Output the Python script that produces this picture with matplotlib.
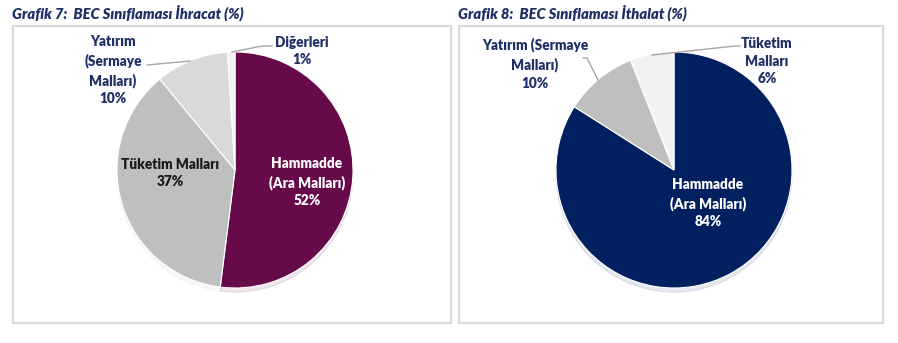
import matplotlib.pyplot as plt
from matplotlib.patches import Rectangle

# export shares by BEC classification (%)
ihr_labels = ['Hammadde\n(Ara Malları)', 'Tüketim Malları', 'Yatırım\n(Sermaye\nMalları)', 'Diğerleri']
ihr_values = [52, 37, 10, 1]
ihr_colors = ['#660a4a', '#bfbfbf', '#d9d9d9', '#f2f2f2']

# import shares by BEC classification (%)
ith_labels = ['Hammadde\n(Ara Malları)', 'Yatırım (Sermaye\nMalları)', 'Tüketim\nMalları']
ith_values = [84, 10, 6]
ith_colors = ['#002060', '#bfbfbf', '#f2f2f2']

titles = ['Grafik 7:  BEC Sınıflaması İhracat (%)', 'Grafik 8:  BEC Sınıflaması İthalat (%)']

W, H = 898, 343
NAVY = '#1f3067'
LINE = '#a6a6a6'
plt.rcParams['font.family'] = ['Lato', 'DejaVu Sans']

fig = plt.figure(figsize=(W / 100, H / 100), dpi=100)
ax = fig.add_axes([0, 0, 1, 1])


def y(py):
    # pixel rows are counted from the top
    return H - py


def txt(px, py, s, color=NAVY, size=9.8):
    ax.text(px, y(py), s, ha='center', va='center', color=color, fontsize=size,
            fontweight='heavy', linespacing=1.45)


def leader(pts):
    ax.plot([p[0] for p in pts], [y(p[1]) for p in pts], color=LINE, lw=1.0, zorder=3)


# panel frames and titles
for x0, x1, t in [(13, 451, titles[0]), (459, 883, titles[1])]:
    ax.add_patch(Rectangle((x0, y(323)), x1 - x0, 323 - 26, fill=False,
                           edgecolor='#d9d9d9', lw=1.6, zorder=1))
    ax.text(x0 - 1, y(13), t, ha='left', va='center', color=NAVY, fontsize=10.6,
            fontweight='heavy', fontstyle='italic')

shadow = {'ox': 0, 'oy': -3, 'alpha': 0.10, 'shade': 0.0}

# export pie
ax.pie(ihr_values, colors=ihr_colors, startangle=90, counterclock=False,
       center=(235, y(170)), radius=118, frame=True, shadow=shadow,
       wedgeprops=dict(edgecolor='white', linewidth=0.8))
txt(307, 182, f'{ihr_labels[0]}\n{ihr_values[0]}%', color='white')
txt(170, 173, f'{ihr_labels[1]}\n{ihr_values[1]}%', color='#1a1a1a')
txt(113, 70, f'{ihr_labels[2]}\n{ihr_values[2]}%')
txt(302, 51, f'{ihr_labels[3]}\n{ihr_values[3]}%')
leader([(147, 65), (190, 61)])
leader([(232, 52), (262, 46), (272, 46)])

# import pie
ax.pie(ith_values, colors=ith_colors, startangle=90, counterclock=False,
       center=(674, y(170)), radius=118, frame=True, shadow=shadow,
       wedgeprops=dict(edgecolor='white', linewidth=0.8))
txt(708, 203, f'{ith_labels[0]}\n{ith_values[0]}%', color='white')
txt(535, 64, f'{ith_labels[1]}\n{ith_values[1]}%')
txt(767, 61, f'{ith_labels[2]}\n{ith_values[2]}%')
leader([(583, 58), (587, 58), (598, 80)])
leader([(652, 55), (735, 46), (740, 46)])

ax.set_xlim(0, W)
ax.set_ylim(0, H)
ax.set_aspect('auto')
ax.axis('off')

fig.savefig('out.png', dpi=100)
